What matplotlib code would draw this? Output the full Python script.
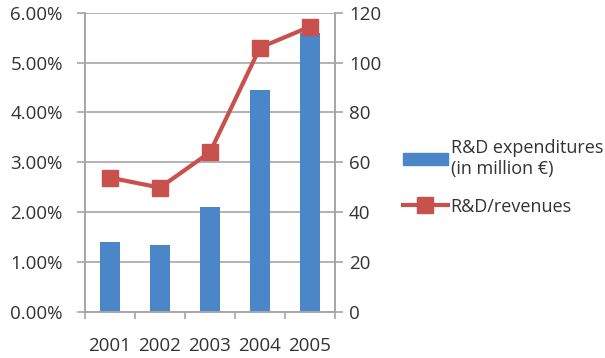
import matplotlib
matplotlib.use("Agg")
import matplotlib.pyplot as plt
from matplotlib.ticker import FuncFormatter, FixedLocator
from matplotlib.lines import Line2D
from matplotlib.patches import Patch

plt.rcParams['font.family'] = ['Open Sans', 'DejaVu Sans']

years = ['2001', '2002', '2003', '2004', '2005']
rd_expenditure = [27.8, 26.8, 41.9, 89.0, 112.0]      # million €
rd_revenue_ratio = [0.0269, 0.0249, 0.0320, 0.0530, 0.0572]  # share

bar_color = '#4A86C8'
line_color = '#C8504D'
grid_color = '#A6A6A6'
text_color = '#333333'
fs = 13.5

fig = plt.figure(figsize=(6.05, 3.58), dpi=100)
ax2 = fig.add_axes([0.1405, 0.1293, 0.4132, 0.8352])  # right axis (millions), underneath
ax1 = ax2.twinx()  # left axis (percent)

x = list(range(len(years)))

ax2.bar(x, rd_expenditure, width=0.4, color=bar_color, zorder=2)
ax2.set_ylim(0, 120)
ax2.set_yticks([0, 20, 40, 60, 80, 100, 120])
ax2.yaxis.tick_right()
ax2.yaxis.set_label_position('right')
ax2.grid(axis='y', color=grid_color, linewidth=1.2, zorder=0)
ax2.set_axisbelow(True)
ax2.set_xlim(-0.5, 4.5)

ax1.yaxis.tick_left()
ax1.yaxis.set_label_position('left')
ax1.plot(x, rd_revenue_ratio, color=line_color, linewidth=3, marker='s',
         markersize=11, markerfacecolor=line_color, markeredgecolor=line_color)
ax1.set_ylim(0, 0.06)
ax1.set_yticks([0, 0.01, 0.02, 0.03, 0.04, 0.05, 0.06])
ax1.yaxis.set_major_formatter(FuncFormatter(lambda v, p: f"{v*100:.2f}%"))
ax1.set_zorder(ax2.get_zorder() + 1)
ax1.patch.set_visible(False)

ax2.set_xticks(x)
ax2.set_xticklabels(years)
ax2.xaxis.set_minor_locator(FixedLocator([-0.5, 0.5, 1.5, 2.5, 3.5, 4.5]))
ax2.tick_params(axis='x', which='major', length=0, pad=18, labelsize=fs, labelcolor=text_color)
ax2.tick_params(axis='x', which='minor', length=5, width=1.2, color=grid_color, direction='out')
ax2.tick_params(axis='y', length=6, width=1.2, color=grid_color, pad=4, labelsize=fs,
                labelcolor=text_color, direction='out')
ax1.tick_params(axis='y', length=6, width=1.2, color=grid_color, pad=10, labelsize=fs,
                labelcolor=text_color, direction='out')

for a in (ax1, ax2):
    a.spines['top'].set_visible(False)
    for s in ('left', 'right', 'bottom'):
        a.spines[s].set_color(grid_color)
        a.spines[s].set_linewidth(1.2)

handles = [Patch(facecolor=bar_color, edgecolor=bar_color),
           Line2D([0], [0], color=line_color, linewidth=3, marker='s', markersize=11)]
labels = ['R&D expenditures\n(in million €)', 'R&D/revenues']
fig.legend(handles, labels, loc='center left', bbox_to_anchor=(0.645, 0.505),
           frameon=False, fontsize=13, handlelength=2.5, handletextpad=0.15,
           labelspacing=1.1, labelcolor=text_color, borderpad=0.2)

fig.savefig('out.png', dpi=100)
